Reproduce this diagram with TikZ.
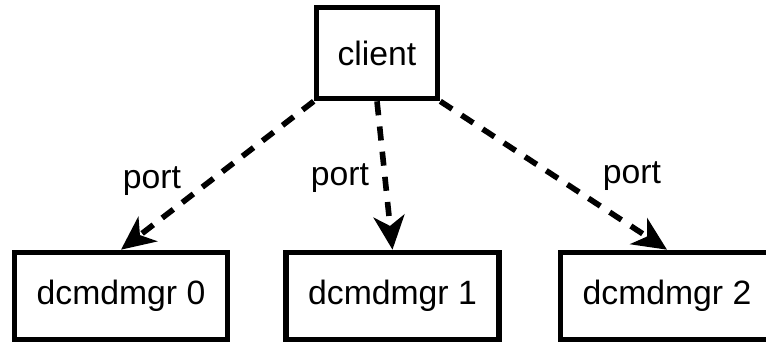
\documentclass[tikz,border=0pt]{standalone}
\usepackage{fontspec}
\setmainfont{Liberation Sans}
\usetikzlibrary{arrows.meta}

\begin{document}
\begin{tikzpicture}[
		box/.style={draw, line width=4pt, rectangle, inner sep=0pt, font=\fontsize{24}{28}\selectfont},
		link/.style={line width=4pt, dash pattern=on 10pt off 8pt, -{Stealth[length=24pt, width=22pt, inset=7pt]}},
		lbl/.style={font=\fontsize{24}{28}\selectfont}
	]
		\useasboundingbox (0,0) rectangle (19.15,-8.625);
		\node[box, minimum width=3.025cm, minimum height=2.275cm] (client) at (9.425,-1.325) {client};
		\node[box, minimum width=5.325cm, minimum height=2.175cm] (mgr0) at (3.025,-7.4) {dcmdmgr 0};
		\node[box, minimum width=5.325cm, minimum height=2.175cm] (mgr1) at (9.8125,-7.4) {dcmdmgr 1};
		\node[box, minimum width=5.325cm, minimum height=2.175cm] (mgr2) at (16.675,-7.4) {dcmdmgr 2};
		\draw[link] (client.south west) -- (mgr0.north);
		\draw[link] (client.south) -- (mgr1.north);
		\draw[link] (client.south east) -- (mgr2.north);
		\node[lbl] (port0) at (3.8,-4.525) {port};
		\node[lbl] (port1) at (8.5,-4.45) {port};
		\node[lbl] (port2) at (15.8,-4.4) {port};
	\end{tikzpicture}
\end{document}
